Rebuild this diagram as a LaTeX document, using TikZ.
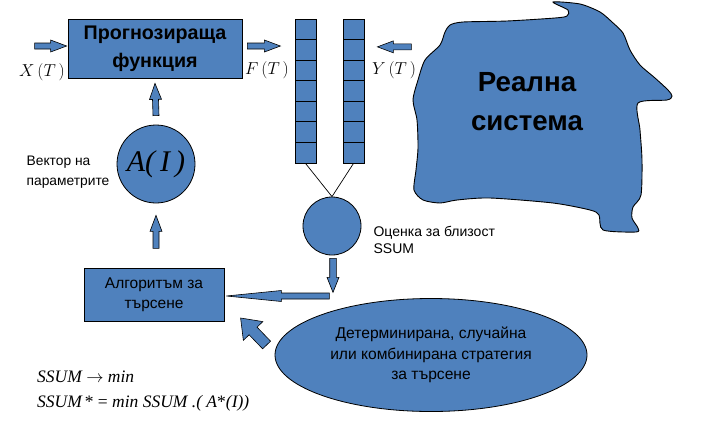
\documentclass[tikz,border=0pt]{standalone}
\usepackage{fontspec}
\setmainfont{Liberation Sans}
\newfontfamily\serifit{Liberation Serif}
\usepackage{tikz}
\usetikzlibrary{calc,shapes.geometric,positioning}
\definecolor{sysblue}{RGB}{79,129,189}
\tikzstyle{blockbox} = [rectangle, draw, fill=sysblue, text centered, align=center, line width=0.8pt]
\tikzstyle{cell} = [rectangle, draw, fill=sysblue, minimum width=21pt, minimum height=20.57pt, inner sep=0pt, line width=0.8pt]
\tikzstyle{roundnode} = [circle, draw, fill=sysblue, inner sep=0pt, line width=0.8pt]
\tikzstyle{fatarrow} = [draw, fill=sysblue, line width=0.6pt, line join=miter]
\tikzstyle{note} = [align=left, inner sep=0pt, font=\fontsize{13.8}{20}\selectfont]
\tikzstyle{mathlabel} = [inner sep=0pt, font=\fontsize{16}{16}\selectfont]
% #1 from, #2 to, #3 half shaft, #4 half head, #5 head length
\newcommand{\fatarrow}[5]{%
  \coordinate (fah) at ($(#2)!#5!(#1)$);
  \draw[fatarrow] ($(#1)!#3!90:(#2)$) -- ($(fah)!#3!-90:(#1)$) -- ($(fah)!#4!-90:(#1)$) -- (#2)
    -- ($(fah)!#4!90:(#1)$) -- ($(fah)!#3!90:(#1)$) -- ($(#1)!#3!-90:(#2)$) -- cycle;}

\begin{document}
\begin{tikzpicture}[x=1pt, y=-1pt]
    \useasboundingbox (0,0) rectangle (701,429);
    % real system
    \draw[fill=sysblue, line width=0.9pt] plot[smooth cycle, tension=0.45] coordinates {
        (553,2) (580,4) (600,12) (612,22) (623,33) (630,50) (640,65) (655,78) (668,90) (672,96)
        (667,100) (638,103) (640,130) (642,160) (641,195) (633,207) (632,218) (638,228) (636,232)
        (603,230) (599,215) (590,210) (553,203) (490,198) (457,200) (440,203) (423,200) (414,190)
        (416,170) (418,148) (417,120) (413,100) (418,80) (425,60) (440,45) (445,32) (450,25)
        (463,22) (507,21) (555,18) (567,16) (568,10)};
    \node (sys) [align=center, font=\bfseries\fontsize{27.7}{39}\selectfont] at (527,102) {Реална\\система};

    \node (pf) [blockbox, minimum width=174pt, minimum height=59pt, font=\bfseries\fontsize{19.7}{28}\selectfont] at (155,48.5) {Прогнозираща\\функция};
    \node (ai) [roundnode, minimum size=78pt, font=\serifit\itshape\fontsize{30}{30}\selectfont] at (156,164) {A(\,I\,)};
    \node (vec) [note, left=7pt of ai, yshift=-8pt] {Вектор на\\параметрите};
    \node (alg) [blockbox, minimum width=140pt, minimum height=53pt, font=\fontsize{15.5}{20}\selectfont] at (154,294.5) {Алгоритъм за\\търсене};
    \node (ss) [roundnode, minimum size=58pt] at (332,226) {};
    \node (est) [note, right=12pt of ss, yshift=-14pt, font=\fontsize{14}{17}\selectfont] {Оценка за близост\\SSUM};
    \node (st) [ellipse, draw, fill=sysblue, line width=0.8pt, minimum width=312pt, minimum height=113pt, align=center, font=\fontsize{15.6}{20.5}\selectfont] at (431,355) {Детерминирана, случайна\\или комбинирана стратегия\\за търсене};

    % the two value columns
    \foreach \i in {1,...,7} {
        \node (fc\i) [cell] at (305.5, {19+20.57*(\i-0.5)}) {};
        \node (yc\i) [cell] at (353.5, {19+20.57*(\i-0.5)}) {};
    }
    \draw[line width=0.7pt] (fc7.south) -- (ss.north) -- (yc7.south);

    \node (xt) [mathlabel] at (42,72) {$X\,(T\,)$};
    \node (ft) [mathlabel] at (267,70) {$F\,(T\,)$};
    \node (yt) [mathlabel] at (394,70) {$Y\,(T\,)$};

    \node (goal) [anchor=west, inner sep=0pt, font=\serifit\itshape\fontsize{17.5}{17.5}\selectfont] at (37,377) {SSUM $\rightarrow$ min};
    \node (opt) [anchor=west, inner sep=0pt, font=\serifit\itshape\fontsize{17.5}{17.5}\selectfont] at (37,403) {SSUM\,{\upshape *} {\upshape =} min SSUM .( A{\upshape *}(I))};

    % block arrows
    \coordinate (xs) at ($(pf.west)+(-33,-2.5)$);
    \coordinate (xe) at ($(pf.west)+(-1,-2.5)$);
    \fatarrow{xs}{xe}{3pt}{6pt}{16pt}
    \coordinate (fs) at ($(pf.east)+(5,-2.5)$);
    \coordinate (fe) at ($(fs)+(33,0)$);
    \fatarrow{fs}{fe}{3pt}{6pt}{16pt}
    \coordinate (ye) at ($(yc2.east)+(13,-3)$);
    \coordinate (ys) at ($(ye)+(34,0)$);
    \fatarrow{ys}{ye}{3pt}{6pt}{16pt}
    \coordinate (as) at ($(ai.north)+(0,-9)$);
    \coordinate (ae) at ($(pf.south)+(0,5)$);
    \fatarrow{as}{ae}{3pt}{6pt}{16pt}
    \coordinate (gs) at ($(ai.south)+(0,45)$);
    \coordinate (ge) at ($(ai.south)+(0,12)$);
    \fatarrow{gs}{ge}{3pt}{6pt}{16pt}
    \coordinate (ds) at ($(ss.south)+(1,3)$);
    \coordinate (de) at ($(ss.south)+(1,37)$);
    \fatarrow{ds}{de}{3.3pt}{6pt}{15pt}
    \coordinate (le) at ($(alg.east)+(2,1.5)$);
    \coordinate (ls) at ($(le)+(103,0)$);
    \fatarrow{ls}{le}{3pt}{5.5pt}{55pt}
    \coordinate (dgs) at ($(st.west)+(-8,-10)$);
    \coordinate (dge) at ($(dgs)+(-26,-27)$);
    \fatarrow{dgs}{dge}{5.5pt}{13.5pt}{18pt}
\end{tikzpicture}
\end{document}
